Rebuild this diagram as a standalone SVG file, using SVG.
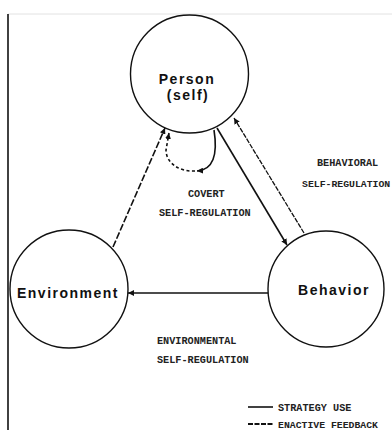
<svg xmlns="http://www.w3.org/2000/svg" width="392" height="430" viewBox="0 0 392 430">
<style>
.node{fill:#fff;stroke:#111;stroke-width:1.4}
.nl{font-family:"Liberation Sans",Arial,sans-serif;font-weight:bold;font-size:14px;letter-spacing:1.5px;fill:#111}
.tw{font-family:"Liberation Mono","Courier New",monospace;font-weight:bold;font-size:10.2px;fill:#222}
.solid{fill:none;stroke:#111;stroke-width:1.6}
.dash{fill:none;stroke:#111;stroke-width:1.6;stroke-dasharray:7 2}
.fine{fill:none;stroke:#111;stroke-width:1.3;stroke-dasharray:5 1.2}
.sdash{fill:none;stroke:#111;stroke-width:1.6;stroke-dasharray:3 2.5}
</style>
<defs>
<marker id="ah" viewBox="0 0 10 10" refX="10" refY="5" markerWidth="6" markerHeight="6" markerUnits="userSpaceOnUse" orient="auto">
<path d="M0,0 L10,5 L0,10 z" fill="#111"/>
</marker>
</defs>
<rect width="392" height="430" fill="#fff"/>
<line x1="8" y1="14" x2="392" y2="14" stroke="#e2e2e2" stroke-width="1"/>
<line x1="8" y1="14" x2="8" y2="430" stroke="#111" stroke-width="1.6"/>
<g id="person">
<circle class="node" cx="189.5" cy="74" r="59"/>
<text class="nl" x="187" y="84" text-anchor="middle">Person</text>
<text class="nl" x="188" y="100" text-anchor="middle">(self)</text>
</g>
<g id="environment">
<circle class="node" cx="69" cy="289" r="59"/>
<text class="nl" x="68" y="298" text-anchor="middle">Environment</text>
</g>
<g id="behavior">
<circle class="node" cx="326" cy="289" r="58"/>
<text class="nl" x="334" y="295" text-anchor="middle">Behavior</text>
</g>
<g id="connectors">
<path class="dash" d="M113 247 L165 128" marker-end="url(#ah)"/>
<path class="solid" d="M217 128 L287 245" marker-end="url(#ah)"/>
<path class="fine" d="M304 233 L234 118" marker-end="url(#ah)"/>
<path class="solid" d="M268 293 L128 293" marker-end="url(#ah)"/>
<path class="solid" d="M214 130 C218 155 213 170 197 171" marker-end="url(#ah)"/>
<path class="sdash" d="M195 171 C178 172 166 162 166 150 L169 133" marker-end="url(#ah)"/>
</g>
<g id="labels">
<text class="tw" x="188" y="197">COVERT</text>
<text class="tw" x="159" y="216">SELF-REGULATION</text>
<text class="tw" x="317" y="166">BEHAVIORAL</text>
<text class="tw" x="302" y="187" style="font-size:9.8px">SELF-REGULATION</text>
<text class="tw" x="157" y="344">ENVIRONMENTAL</text>
<text class="tw" x="157" y="363">SELF-REGULATION</text>
</g>
<g id="legend">
<line class="solid" x1="248" y1="407" x2="273" y2="407"/>
<text class="tw" x="278" y="411">STRATEGY USE</text>
<line class="dash" x1="248" y1="424" x2="273" y2="424" style="stroke-dasharray:5 1.5;stroke-width:2.2"/>
<text class="tw" x="278" y="427.5" style="font-size:9.8px">ENACTIVE FEEDBACK</text>
</g>
</svg>
